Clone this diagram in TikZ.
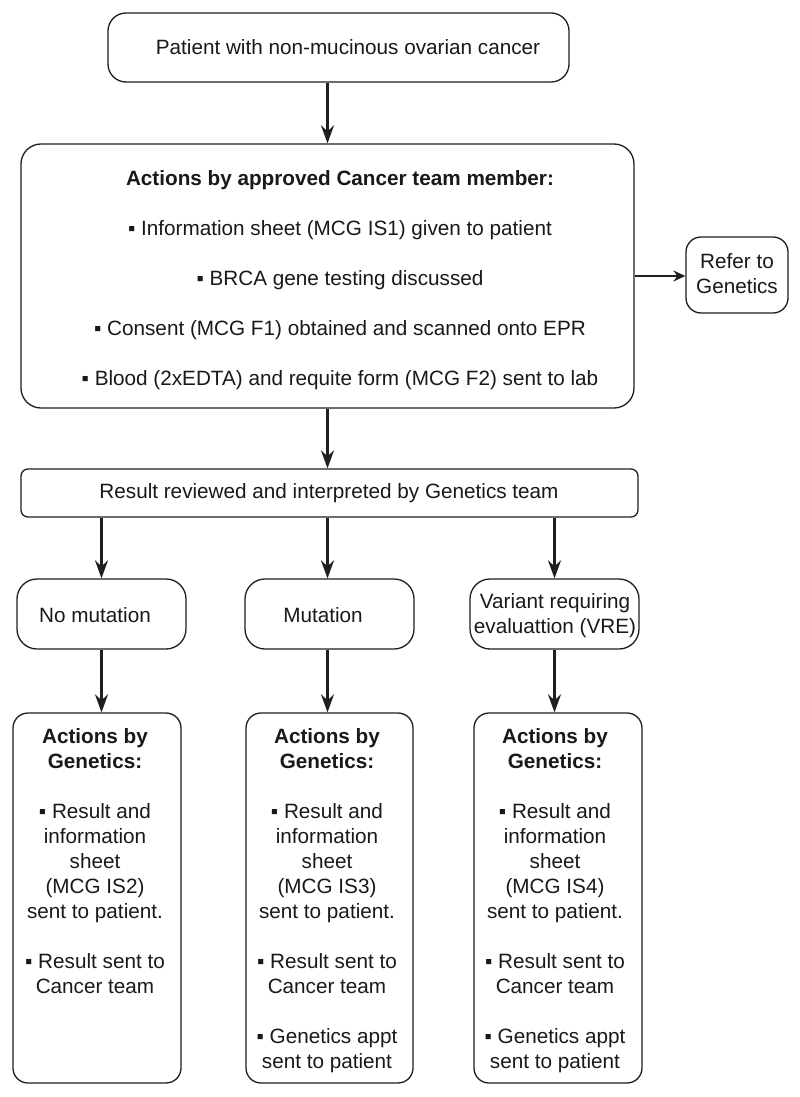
\documentclass[tikz,border=0pt]{standalone}
\usepackage{fontspec}
\setmainfont{Liberation Sans}
\usetikzlibrary{arrows.meta}
\begin{document}
\begin{tikzpicture}[x=1pt,y=-1pt,
  box/.style={draw=black!88, line width=1.3pt, rounded corners=#1, inner sep=0pt},
  box/.default=18pt,
  txt/.style={font=\fontsize{20.7}{25}\selectfont, align=center, inner sep=0pt, anchor=base, text=black!90},
  arr/.style={draw=black!88, line width=2.4pt, -{Stealth[length=18pt,width=13pt,inset=6pt]}},
  tarr/.style={draw=black!88, line width=1.3pt, -{Stealth[length=12pt,width=11pt,inset=4pt]}}]
\fill[white] (0,0) rectangle (800,1097);
\useasboundingbox (0,0) rectangle (800,1097);

% boxes
\node[box=18pt, minimum width=461pt, minimum height=69pt] (top) at (338.5,47.5) {};
\node[box=20pt, minimum width=613pt, minimum height=264pt] (main) at (327.5,276) {};
\node[box=15pt, minimum width=102pt, minimum height=76pt] (refer) at (737,275) {};
\node[box=7pt, minimum width=617pt, minimum height=48pt] (res) at (329.5,493) {};
\node[box=20pt, minimum width=169pt, minimum height=70pt] (nm) at (101.5,614) {};
\node[box=20pt, minimum width=169pt, minimum height=70pt] (mu) at (329.5,614) {};
\node[box=20pt, minimum width=169pt, minimum height=70pt] (vre) at (554.5,614) {};
\node[box=15pt, minimum width=168pt, minimum height=370pt] (bn) at (97,898) {};
\node[box=15pt, minimum width=167pt, minimum height=370pt] (bm) at (329.5,898) {};
\node[box=15pt, minimum width=168pt, minimum height=370pt] (bv) at (558,898) {};

% texts (anchor base = baseline of the last line)
\node[txt] (toptxt) at (348,55) {Patient with non-mucinous ovarian cancer};
\node[txt, font=\fontsize{20.7}{50}\selectfont] (maintxt) at (340,385)
  {\textbf{Actions by approved Cancer team member:}\\
   ▪ Information sheet (MCG IS1) given to patient\\
   ▪ BRCA gene testing discussed\\
   ▪ Consent (MCG F1) obtained and scanned onto EPR\\
   ▪ Blood (2xEDTA) and requite form (MCG F2) sent to lab};
\node[txt] (refertxt) at (737,293) {Refer to\\Genetics};
\node[txt] (restxt) at (329,498) {Result reviewed and interpreted by Genetics team};
\node[txt] (nmtxt) at (95,622) {No mutation};
\node[txt] (mutxt) at (323,622) {Mutation};
\node[txt] (vretxt) at (555,633) {Variant requiring\\evaluattion (VRE)};
\node[txt] (bntxt) at (95,993) {\textbf{Actions by}\\\textbf{Genetics:}\\[25pt]
  ▪ Result and\\information\\sheet\\(MCG IS2)\\sent to patient.\\[25pt]
  ▪ Result sent to\\Cancer team};
\node[txt] (bmtxt) at (327,1068) {\textbf{Actions by}\\\textbf{Genetics:}\\[25pt]
  ▪ Result and\\information\\sheet\\(MCG IS3)\\sent to patient.\\[25pt]
  ▪ Result sent to\\Cancer team\\[25pt]
  ▪ Genetics appt\\sent to patient};
\node[txt] (bvtxt) at (555,1068) {\textbf{Actions by}\\\textbf{Genetics:}\\[25pt]
  ▪ Result and\\information\\sheet\\(MCG IS4)\\sent to patient.\\[25pt]
  ▪ Result sent to\\Cancer team\\[25pt]
  ▪ Genetics appt\\sent to patient};

% connectors
\draw[arr] (top.south -| main.north) -- (main.north);
\draw[tarr] (main.east) -- (main.east -| refer.west);
\draw[arr] (main.south) -- (main.south |- res.north);
\draw[arr] (res.south -| nm.north) -- (nm.north);
\draw[arr] (res.south -| main.south) -- (main.south |- mu.north);
\draw[arr] (res.south -| vre.north) -- (vre.north);
\draw[arr] (nm.south) -- (nm.south |- bn.north);
\draw[arr] (main.south |- mu.south) -- (main.south |- bm.north);
\draw[arr] (vre.south) -- (vre.south |- bv.north);
\end{tikzpicture}
\end{document}
